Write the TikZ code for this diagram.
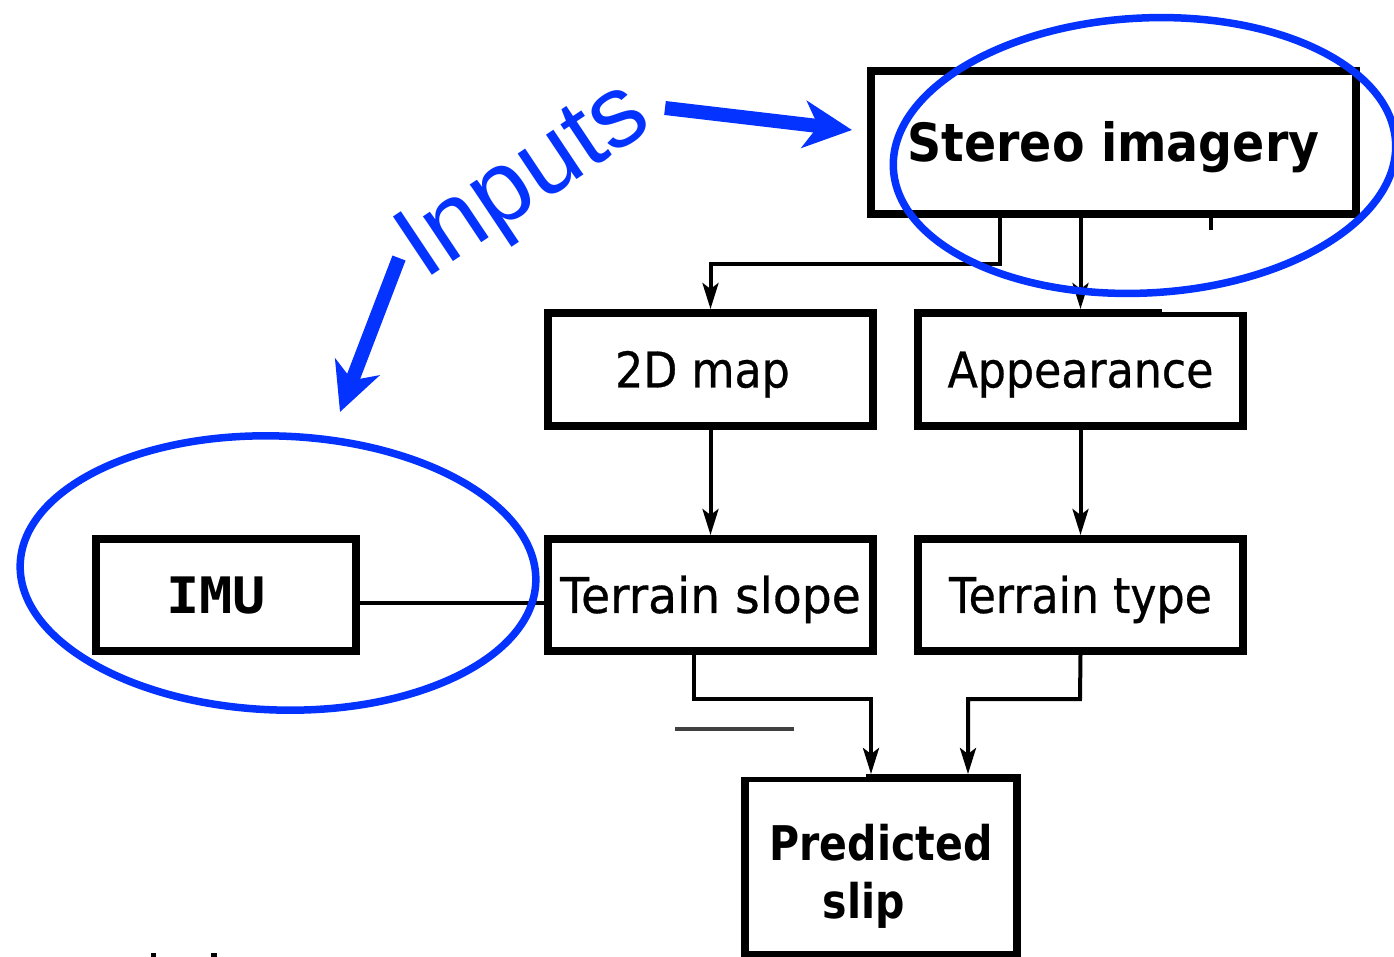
\documentclass[tikz,border=0pt]{standalone}
\usepackage{fontspec}
\usetikzlibrary{arrows.meta}

% box label faces
\newfontfamily\labelfont[FakeStretch=0.9,FakeBold=0.6]{DejaVu Sans}
\newfontfamily\widelabelfont[FakeStretch=0.96,FakeBold=0.6]{DejaVu Sans}
\newfontfamily\stereofont[FakeStretch=0.9]{DejaVu Sans Bold}
\newfontfamily\slipfont[FakeStretch=0.86]{DejaVu Sans Bold}
\newfontfamily\imufont[FakeStretch=1.1]{DejaVu Sans Mono Bold}
\newfontfamily\notefont{Liberation Sans}

\definecolor{marker}{RGB}{4,51,255}

\begin{document}
\begin{tikzpicture}[x=0.02cm,y=-0.02cm,
  box/.style={draw=black, line width=0.16cm, fill=white, inner sep=0pt,
    text depth=0pt},
  plain/.style={box, font=\labelfont\fontsize{28pt}{34pt}\selectfont,
    text height=20.4pt},
  conn/.style={line width=0.08cm, black},
  arr/.style={conn, -{Stealth[length=0.52cm, width=0.32cm, inset=0.12cm]}},
  hand/.style={draw=marker, line width=0.15cm},
  bluearrow/.style={marker, line width=0.28cm,
    -{Stealth[length=0.96cm, width=0.94cm, inset=0.28cm]}}]

\useasboundingbox (0,0) rectangle (1394,957);

% boxes
\node[box, minimum width=9.70cm, minimum height=2.86cm,
  font=\stereofont\fontsize{30pt}{36pt}\selectfont, text height=21.9pt]
  (stereo) at (1113.5,142.5) {Stereo imagery};
\node[plain, minimum width=6.5cm, minimum height=2.26cm] (map) at (710.5,369.5) {2D map\hspace*{0.32cm}};
\node[plain, minimum width=6.5cm, minimum height=2.26cm] (app) at (1080.5,369.5) {Appearance};
\node[box, minimum width=5.2cm, minimum height=2.24cm,
  font=\imufont\fontsize{28.6pt}{34pt}\selectfont, text height=20.9pt]
  (imu) at (226,595) {IMU\hspace*{0.4cm}};
\node[plain, minimum width=6.5cm, minimum height=2.24cm,
  font=\widelabelfont\fontsize{28pt}{34pt}\selectfont] (slope) at (710.5,595) {Terrain slope};
\node[plain, minimum width=6.5cm, minimum height=2.24cm] (type) at (1080.5,595) {Terrain type};
\node[box, minimum width=5.44cm, minimum height=3.54cm] (slip) at (881,866.5) {};
\node[font=\slipfont\fontsize{27.2pt}{32.9pt}\selectfont, align=center, inner sep=0pt,
  anchor=base] (sliptext) at (881,918) {Predicted\\slip\hspace*{0.68cm}};

% connectors
\draw[arr] (stereo.south -| 1000,0) -- (1000,264) -| (map.north);
\draw[arr] (stereo.south -| app.north) -- (app.north);
\draw[conn] (stereo.south -| 1211,0) -- ++(0,12);
\draw[arr] (map.south) -- (slope.north);
\draw[arr] (app.south) -- (type.north);
\draw[conn] ([yshift=-0.16cm]imu.east) -- ([yshift=-0.16cm]slope.west);
\draw[arr] (slope.south -| 694,0) -- (694,699) -- (871,699) -- (slip.north -| 871,0);
\draw[arr] (type.south) -- (1080,699) -- (968,699) -- (slip.north -| 968,0);

% small breaks in the box outlines
\fill[white] (1162,304) rectangle (1252,312);
\fill[white] (736,770) rectangle (866,777);

% stray marks
\draw[line width=0.08cm, black!75] (675,729) -- (794,729);
\fill[black] (151,953) rectangle (156,957);
\fill[black] (211,953) rectangle (217,957);

% hand-drawn highlights
\draw[hand, rotate around={3:(1144.5,155.5)}]
  (1144.5,155.5) ellipse [x radius=5.03cm, y radius=2.75cm];
\draw[hand, rotate around={-2:(278,573)}]
  (278,573) ellipse [x radius=5.16cm, y radius=2.74cm];

% annotation
\node[marker, font=\notefont\fontsize{58pt}{60pt}\selectfont, inner sep=0pt,
  anchor=base west, rotate=33.7] (inputs) at (424,281) {Inputs};
\coordinate (upA) at (665,108);
\coordinate (upB) at (852,130);
\coordinate (dnA) at (399,258);
\coordinate (dnB) at (340,412);
\draw[bluearrow] (upA) -- (upB);
\draw[bluearrow] (dnA) -- (dnB);

\end{tikzpicture}
\end{document}
